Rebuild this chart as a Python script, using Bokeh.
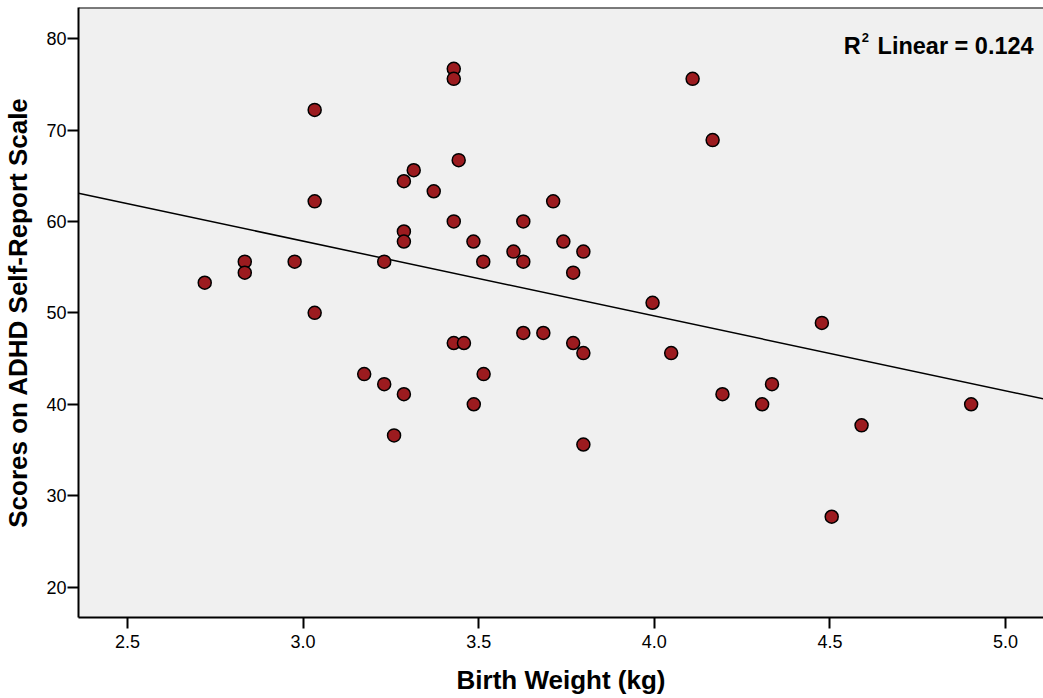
import numpy as np
from bokeh.plotting import figure
from bokeh.models import Range1d, FixedTicker, Span, Label, NumeralTickFormatter
from bokeh.embed import file_html
from bokeh.resources import INLINE

# Data
birth_weight = [2.72, 2.834, 2.834, 2.976, 3.033, 3.033, 3.033, 3.174, 3.231, 3.231,
                3.259, 3.287, 3.287, 3.287, 3.287, 3.315, 3.372, 3.429, 3.429, 3.429,
                3.429, 3.443, 3.458, 3.485, 3.486, 3.513, 3.514, 3.599, 3.627, 3.627,
                3.627, 3.684, 3.712, 3.741, 3.769, 3.769, 3.798, 3.798, 3.798, 3.995,
                4.048, 4.109, 4.166, 4.194, 4.307, 4.335, 4.477, 4.505, 4.590, 4.902]
adhd_score = [53.3, 55.6, 54.4, 55.6, 72.2, 62.2, 50.0, 43.3, 55.6, 42.2,
              36.6, 64.4, 58.9, 57.8, 41.1, 65.6, 63.3, 76.7, 75.6, 60.0,
              46.7, 66.7, 46.7, 57.8, 40.0, 55.6, 43.3, 56.7, 60.0, 55.6,
              47.8, 47.8, 62.2, 57.8, 54.4, 46.7, 56.7, 45.6, 35.6, 51.1,
              45.6, 75.6, 68.9, 41.1, 40.0, 42.2, 48.9, 27.7, 37.7, 40.0]
x_ticks = [2.5, 3.0, 3.5, 4.0, 4.5, 5.0]
y_ticks = [20, 30, 40, 50, 60, 70, 80]
r2_symbol = "R"
r2_power = "2"
r2_rest = "Linear = 0.124"

X_START, X_END = 2.3606, 5.108
Y_START, Y_END = 16.68, 83.40
FONT = "Liberation Sans"

p = figure(width=1043, height=698, output_backend="svg", toolbar_location=None,
           x_range=Range1d(X_START, X_END), y_range=Range1d(Y_START, Y_END),
           min_border_left=77, min_border_right=0, min_border_top=7, min_border_bottom=81)

p.background_fill_color = "#F0F0F0"
p.border_fill_color = "white"
p.outline_line_color = None
p.xgrid.visible = False
p.ygrid.visible = False

# regression line from data
slope, intercept = np.polyfit(birth_weight, adhd_score, 1)
lx = [X_START, X_END]
ly = [intercept + slope * v for v in lx]
p.line(lx, ly, line_color="black", line_width=1.5)

p.scatter(birth_weight, adhd_score, size=13, fill_color="#9C1B1F",
          line_color="black", line_width=1.5)

# top border
p.add_layout(Span(location=Y_END, dimension="width", line_color="black", line_width=2))

for ax in (p.xaxis[0], p.yaxis[0]):
    ax.axis_line_color = "black"
    ax.axis_line_width = 2
    ax.major_tick_line_color = "black"
    ax.major_tick_line_width = 2
    ax.major_tick_in = 0
    ax.major_tick_out = 11
    ax.minor_tick_line_color = None
    ax.major_label_text_font = FONT
    ax.major_label_text_font_size = "18px"
    ax.major_label_text_color = "black"
    ax.axis_label_text_font = FONT
    ax.axis_label_text_font_style = "bold"
    ax.axis_label_text_font_size = "26px"
    ax.axis_label_text_color = "black"

p.xaxis[0].ticker = FixedTicker(ticks=x_ticks)
p.xaxis[0].formatter = NumeralTickFormatter(format="0.0")
p.xaxis[0].axis_label = "Birth Weight (kg)"
p.xaxis[0].major_label_standoff = 6
p.xaxis[0].axis_label_standoff = 14

p.yaxis[0].ticker = FixedTicker(ticks=y_ticks)
p.yaxis[0].axis_label = "Scores on ADHD Self-Report Scale"
p.yaxis[0].major_label_standoff = 1
p.yaxis[0].axis_label_standoff = 10

lab_x = X_END - 0.028
lab_y = 79.15
common = dict(text_font=FONT, text_font_style="bold", text_color="black",
              text_baseline="alphabetic")
p.add_layout(Label(x=lab_x, y=lab_y, text=r2_rest, text_align="right",
                   text_font_size="23.5px", **common))
p.add_layout(Label(x=lab_x, y=lab_y, x_offset=-173, text=r2_symbol, text_align="right",
                   text_font_size="23.5px", **common))
p.add_layout(Label(x=lab_x, y=lab_y, x_offset=-172, y_offset=9, text=r2_power,
                   text_align="left", text_font_size="13px", **common))

open("out.html", "w").write(file_html(p, INLINE))
